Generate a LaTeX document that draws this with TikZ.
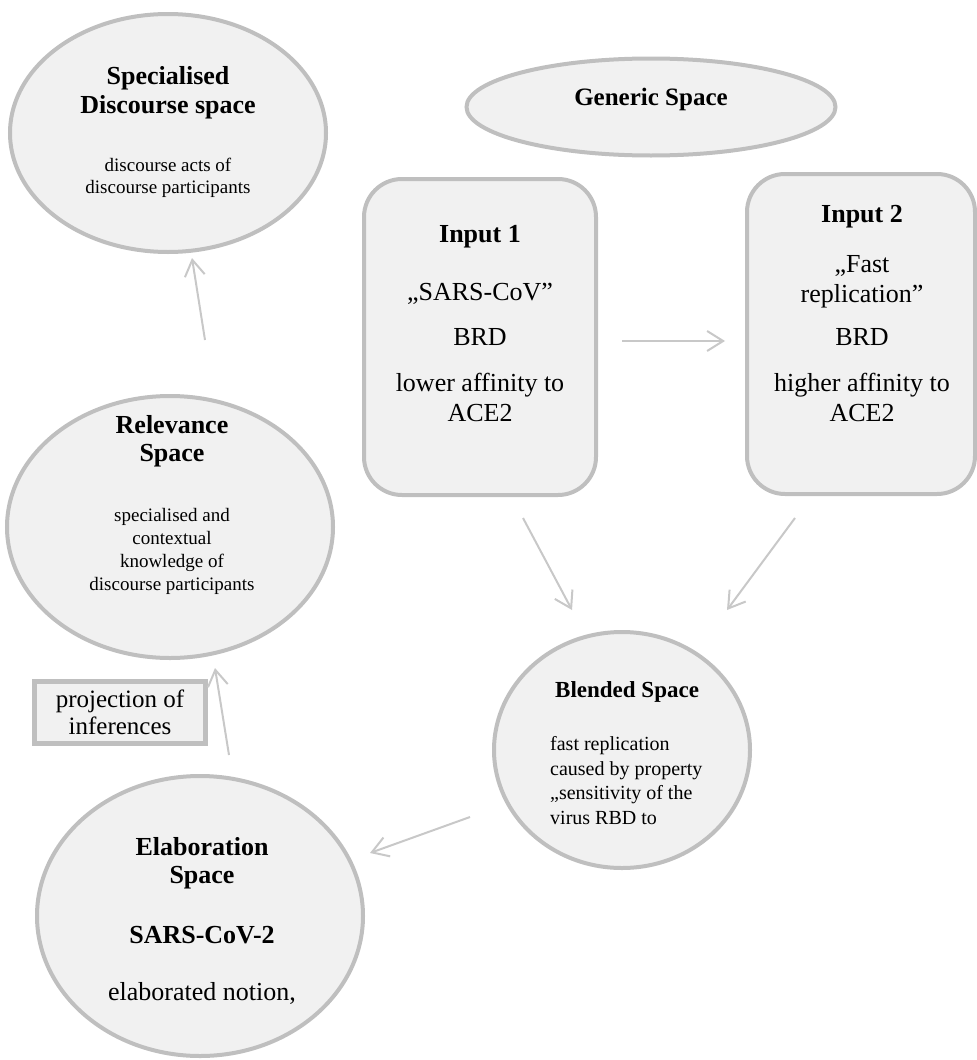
\documentclass[tikz,border=0pt]{standalone}
\usepackage{fontspec}
\setmainfont{Liberation Serif}
\usetikzlibrary{arrows.meta,shapes.geometric}
\definecolor{spacefill}{HTML}{F1F1F1}
\definecolor{spaceline}{HTML}{BFBFBF}
\definecolor{linkgray}{HTML}{C8C8C8}
\newcommand{\sptitle}[2][26]{{\fontsize{#1}{#1}\selectfont\bfseries #2}}

\begin{document}
\begin{tikzpicture}[x=1pt,y=-1pt,
	bubble/.style={ellipse,draw=spaceline,fill=spacefill,line width=4pt,inner sep=0pt},
	inputbox/.style={rectangle,rounded corners=38pt,draw=spaceline,fill=spacefill,line width=4pt,inner sep=0pt},
	notebox/.style={rectangle,draw=spaceline,fill=spacefill,line width=5pt,inner sep=0pt,align=center,font=\fontsize{25}{27}\selectfont},
	txt/.style={align=center,inner sep=0pt,font=\fontsize{26}{30}\selectfont},
	smalltxt/.style={align=center,inner sep=0pt,font=\fontsize{19}{22}\selectfont},
	link/.style={draw=linkgray,line width=2pt,-{Straight Barb[length=16pt,width=20pt]}}]
\useasboundingbox (0,0) rectangle (977,1060);

\node[bubble,minimum width=316pt,minimum height=238pt] (spec) at (168,133) {};
\node[smalltxt] (spec-txt) at (168,132) {\sptitle{Specialised}\\[5pt]\sptitle{Discourse space}\\[36pt]discourse acts of\\discourse participants};

\node[bubble,minimum width=369pt,minimum height=97pt] (gen) at (651,107) {};
\node[txt] (gen-txt) at (651,99) {\sptitle[25]{Generic Space}};

\node[inputbox,minimum width=232pt,minimum height=316pt] (in1) at (480,337) {};
\node[txt] (in1-txt) at (480,324) {\sptitle{Input 1}\\[28pt]„SARS-CoV”\\[15pt]BRD\\[16pt]lower affinity to\\ACE2};

\node[inputbox,minimum width=228pt,minimum height=320pt] (in2) at (861,334) {};
\node[txt] (in2-txt) at (862,314) {\sptitle{Input 2}\\[20pt]„Fast\\replication”\\[13pt]BRD\\[16pt]higher affinity to\\ACE2};

\node[bubble,minimum width=326pt,minimum height=262pt] (rel) at (170,527) {};
\node[smalltxt,font=\fontsize{19}{23}\selectfont] (rel-txt) at (172,505) {\sptitle{Relevance}\\[5pt]\sptitle{Space}\\[37pt]specialised and\\contextual\\knowledge of\\discourse participants};

\node[notebox,minimum width=171pt,minimum height=62pt] (proj) at (120,712) {projection of\\inferences};

\node[bubble,minimum width=256pt,minimum height=236pt] (blend) at (622,750) {};
\node[smalltxt,align=left,anchor=west,font=\fontsize{20}{24.5}\selectfont] (blend-txt) at (550,753) {\hspace*{5pt}\sptitle[23]{Blended Space}\\[28.5pt]fast replication\\caused by property\\„sensitivity of the\\virus RBD to};

\node[bubble,minimum width=326pt,minimum height=280pt] (elab) at (200,916) {};
\node[txt] (elab-txt) at (202,921) {\sptitle{Elaboration}\\[-2pt]\sptitle{Space}\\[30pt]\sptitle{SARS-CoV-2}\\[27pt]elaborated notion,};

\coordinate (rel-out) at (205,340);
\coordinate (spec-in) at (192,258);
\coordinate (in1-out) at (622,341);
\coordinate (in2-in) at (725,341);
\coordinate (in1-down) at (523,518);
\coordinate (in2-down) at (795,518);
\coordinate (blend-in1) at (572,610);
\coordinate (blend-in2) at (727,610);
\coordinate (blend-out) at (470,817);
\coordinate (elab-in) at (370,853);
\coordinate (elab-out) at (229,755);
\coordinate (rel-in) at (215,668);

\draw[link] (rel-out) -- (spec-in);
\draw[link] (in1-out) -- (in2-in);
\draw[link] (in1-down) -- (blend-in1);
\draw[link] (in2-down) -- (blend-in2);
\draw[link] (blend-out) -- (elab-in);
\draw[link] (elab-out) -- (rel-in);
\end{tikzpicture}
\end{document}
